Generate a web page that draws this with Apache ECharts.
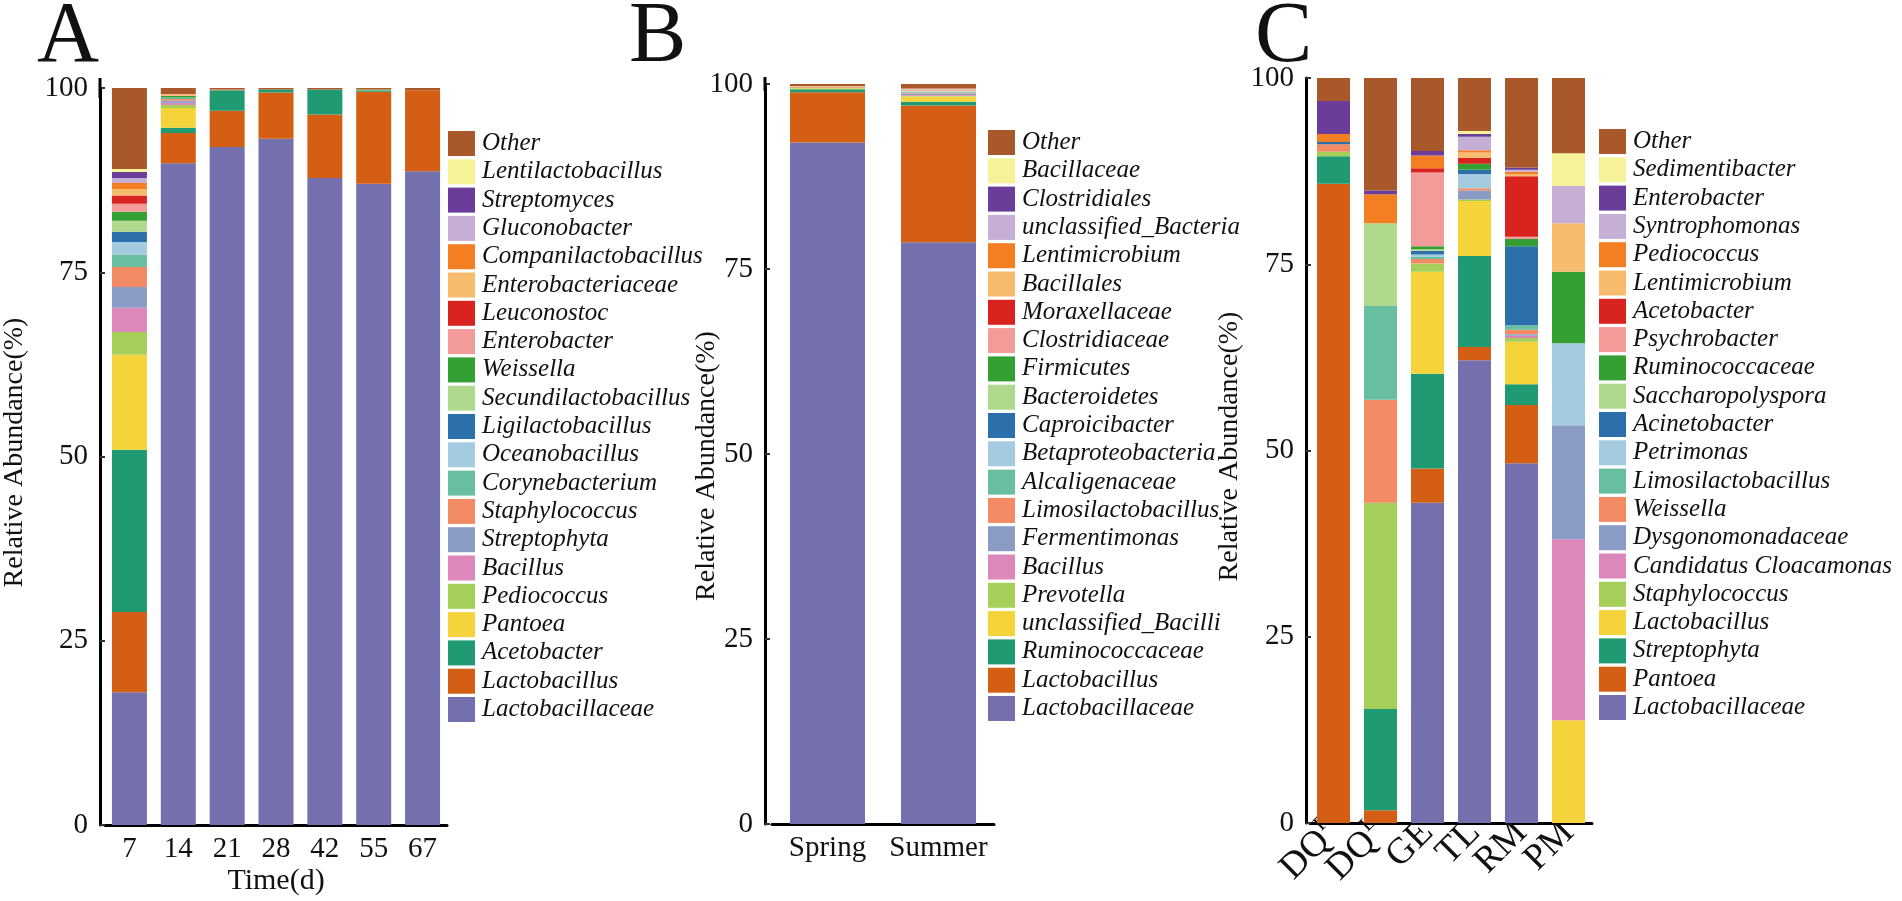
<!DOCTYPE html>
<html>
<head>
<meta charset="utf-8">
<script src="https://cdn.jsdelivr.net/npm/echarts@6/dist/echarts.min.js"></script>
<style>
html,body{margin:0;padding:0;background:#fff;}
#chart{width:1902px;height:901px;}
</style>
</head>
<body>
<div id="chart"></div>
<script>
// ---------------- Data ----------------
const yTicks = [0, 25, 50, 75, 100];

// Panel A (stack order bottom -> top)
const taxaA = ['Lactobacillaceae','Lactobacillus','Acetobacter','Pantoea','Pediococcus','Bacillus','Streptophyta','Staphylococcus','Corynebacterium','Oceanobacillus','Ligilactobacillus','Secundilactobacillus','Weissella','Enterobacter','Leuconostoc','Enterobacteriaceae','Companilactobacillus','Gluconobacter','Streptomyces','Lentilactobacillus','Other'];
const catA = ['7','14','21','28','42','55','67'];
const a7  = [18.0,10.9,22.0,12.9,3.1,3.3,2.8,2.7,1.7,1.7,1.4,1.5,1.2,1.1,1.1,0.9,0.8,0.7,0.8,0.4,11.0];
const a14 = [89.8,4.1,0.7,2.7,0.4,0.3,0.3,0.2,0.2,0,0,0,0.2,0.1,0,0.2,0,0,0,0,0.8];
const a21 = [92.0,4.9,2.8,0,0,0,0,0.1,0,0,0,0,0,0,0,0,0,0,0,0,0.2];
const a28 = [93.1,6.3,0.4,0,0,0,0,0,0,0,0,0,0,0,0,0,0,0,0,0,0.2];
const a42 = [87.8,8.6,3.4,0,0,0,0,0,0,0,0,0,0,0,0,0,0,0,0,0,0.2];
const a55 = [87.0,12.5,0.2,0,0.1,0,0,0,0,0,0,0,0,0,0,0,0,0,0,0,0.2];
const a67 = [88.7,11.0,0,0,0,0,0,0,0,0,0,0,0,0,0,0,0,0,0,0,0.3];

// Panel B
const taxaB = ['Lactobacillaceae','Lactobacillus','Ruminococcaceae','unclassified_Bacilli','Prevotella','Bacillus','Fermentimonas','Limosilactobacillus','Alcaligenaceae','Betaproteobacteria','Caproicibacter','Bacteroidetes','Firmicutes','Clostridiaceae','Moraxellaceae','Bacillales','Lentimicrobium','unclassified_Bacteria','Clostridiales','Bacillaceae','Other'];
const catB = ['Spring','Summer'];
const bSpring = [92.1,6.8,0.4,0.1,0.1,0,0,0.1,0,0,0,0,0,0,0,0,0,0,0,0.1,0.3];
const bSummer = [78.6,18.5,0.5,0.7,0.1,0.1,0.2,0.1,0.1,0.1,0,0.1,0,0.1,0,0.1,0,0.1,0,0,0.6];

// Panel C
const taxaC = ['Lactobacillaceae','Pantoea','Streptophyta','Lactobacillus','Staphylococcus','Candidatus Cloacamonas','Dysgonomonadaceae','Weissella','Limosilactobacillus','Petrimonas','Acinetobacter','Saccharopolyspora','Ruminococcaceae','Psychrobacter','Acetobacter','Lentimicrobium','Pediococcus','Syntrophomonas','Enterobacter','Sedimentibacter','Other'];
const catC = ['DQF','DQL','GE','TL','RM','PM'];
const cDQF = [0,85.8,3.7,0,0.6,0,0,1.0,0,0,0.3,0,0,0,0,0,1.1,0,4.4,0,3.1];
const cDQL = [0,1.7,13.6,0,27.7,0,0,13.8,12.6,0,0,11.1,0,0,0,0,3.9,0,0.5,0,15.1];
const cGE  = [43.0,4.6,12.7,13.7,1.1,0,0,0.6,0.3,0.3,0.5,0.2,0.4,9.9,0.6,0,1.7,0,0.6,0,9.8];
const cTL  = [62.1,1.8,12.2,7.4,0.2,0,1.2,0.3,0,1.9,0.6,0,0.8,0,0.8,0.7,0.3,1.8,0.4,0.4,7.1];
const cRM  = [48.3,7.8,2.8,5.7,0.5,0.3,0.2,0.6,0.6,0,10.6,0,1.0,0.3,8.1,0.3,0.3,0.3,0.3,0,12.0];
const cPM  = [0,0,0,13.8,0,24.3,15.3,0,0,11.0,0,0,9.6,0,0,6.5,0,5.0,0,4.4,10.1];

// Palette by stack position
const palette = ['#7370ad','#d45f14','#1f9a72','#f5d33b','#a5cf59','#dc88bb','#8a9bc6','#f28a64','#67bfa0','#a5cbe0','#2b70ab','#b0d98d','#34a033','#f39b99','#d9231f','#f7bb6d','#f37f22','#c5afd4','#6a3d9a','#f5f29a','#a8582b'];

// ---------------- Chart ----------------
const FONT = 'Liberation Serif';
const INK = '#111';

const panels = [
  {key:'A', taxa:taxaA, cats:catA, bars:[a7,a14,a21,a28,a42,a55,a67], grid:{left:102,top:88,width:345,height:738}, off:5, barW:35, ext:20, legend:{left:448,top:131}, gap:71, pad:[0,0,0,8]},
  {key:'B', taxa:taxaB, cats:catB, bars:[bSpring,bSummer], grid:{left:772,top:84,width:222,height:740}, off:7, barW:75, ext:14, legend:{left:988,top:130}, gap:44, pad:[0,24,0,0]},
  {key:'C', taxa:taxaC, cats:catC, bars:[cDQF,cDQL,cGE,cTL,cRM,cPM], grid:{left:1310,top:78,width:282,height:745}, off:4, barW:33, ext:0, legend:{left:1599,top:129}, gap:62, pad:[0,0,0,8]}
];

const grids = [], xAxes = [], yAxes = [], series = [], legends = [];
panels.forEach((p, pi) => {
  grids.push(p.grid);
  const xa = {
    type:'category', gridIndex:pi, data:p.cats,
    axisLine:{lineStyle:{color:'#000', width:3}},
    axisTick:{inside:true, alignWithLabel:true, length:5, lineStyle:{color:'#333', width:2}},
    axisLabel:{fontFamily:FONT, fontSize:29, color:INK, margin:10, interval:0}
  };
  if (p.key === 'A') {
    xa.name = 'Time(d)'; xa.nameLocation = 'middle'; xa.nameGap = 41; xa.nameMoveOverlap = false;
    xa.nameTextStyle = {fontFamily:FONT, fontSize:30, color:INK};
  }
  if (p.key === 'C') {
    xa.axisLabel = {
      interval:0, rotate:45, margin:4, fontFamily:FONT, fontSize:37, color:INK,
      formatter: v => { const m = v.match(/^(DQ)([FL])$/); return m ? '{m|DQ}{s|' + m[2] + '}' : '{m|' + v + '}'; },
      rich:{ m:{fontFamily:FONT, fontSize:37, color:INK}, s:{fontFamily:FONT, fontSize:21, color:INK, padding:[0,0,22,1]} }
    };
  }
  xAxes.push(xa);
  yAxes.push({
    type:'value', gridIndex:pi, min:yTicks[0], max:yTicks[yTicks.length-1], interval:yTicks[1]-yTicks[0], offset:p.off,
    axisLine:{show:true, lineStyle:{color:'#000', width:3}, symbol: p.ext ? ['none','rect'] : ['none','none'], symbolSize:[3, p.ext]},
    axisTick:{show:true, inside:true, length:5, lineStyle:{color:'#333', width:2}},
    splitLine:{show:false},
    axisLabel:{fontFamily:FONT, fontSize:29, color:INK, margin:12},
    name:'Relative Abundance(%)', nameLocation:'middle', nameGap:p.gap, nameRotate:90, nameMoveOverlap:false,
    nameTextStyle:{fontFamily:FONT, fontSize:28, color:INK, padding:p.pad}
  });
  p.taxa.forEach((t, ti) => {
    series.push({
      type:'bar', name:p.key + ':' + t, stack:p.key, xAxisIndex:pi, yAxisIndex:pi,
      barWidth:p.barW, data:p.bars.map(b => b[ti]),
      itemStyle:{color:palette[ti]}, emphasis:{disabled:true}, animation:false
    });
  });
  legends.push({
    orient:'vertical', left:p.legend.left, top:p.legend.top, padding:0,
    itemWidth:27, itemHeight:25, itemGap:3.3, icon:'rect', selectedMode:false,
    data:p.taxa.slice().reverse().map(t => p.key + ':' + t),
    formatter: n => n.slice(2),
    textStyle:{fontFamily:FONT, fontStyle:'italic', fontSize:25, lineHeight:25, color:INK, padding:[0,0,0,2]}
  });
});

const chart = echarts.init(document.getElementById('chart'), null, {renderer:'canvas'});
chart.setOption({
  backgroundColor:'#fff',
  animation:false,
  title:[
    {text:'A', left:32, top:-10, textStyle:{fontFamily:FONT, fontSize:86, fontWeight:'normal', color:INK}},
    {text:'B', left:624, top:-10, textStyle:{fontFamily:FONT, fontSize:86, fontWeight:'normal', color:INK}},
    {text:'C', left:1250, top:-10, textStyle:{fontFamily:FONT, fontSize:86, fontWeight:'normal', color:INK}}
  ],
  grid:grids, xAxis:xAxes, yAxis:yAxes, legend:legends, series:series, tooltip:{show:false}
});
</script>
</body>
</html>
